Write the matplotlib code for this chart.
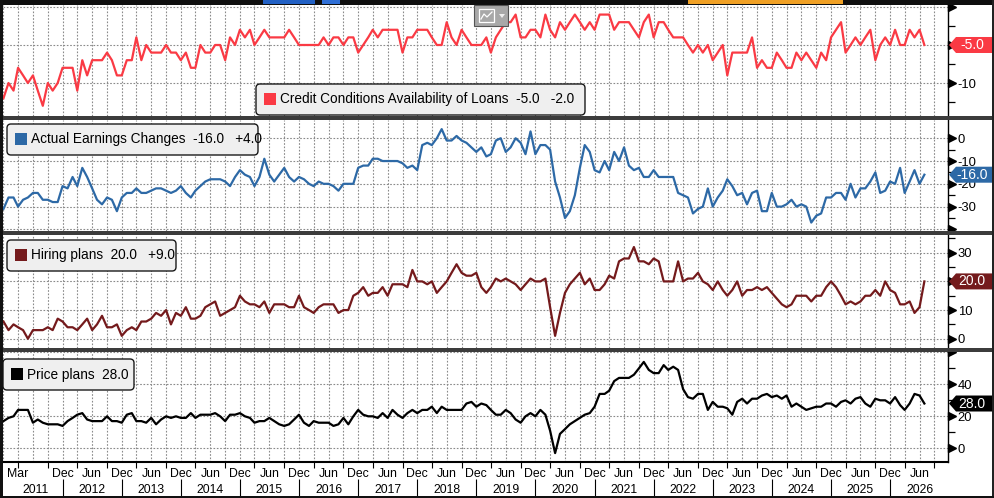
import pandas as pd
import matplotlib
matplotlib.use('Agg')
import matplotlib.pyplot as plt
import matplotlib.dates as mdates
from matplotlib.patches import Rectangle, FancyBboxPatch, Polygon
from matplotlib.lines import Line2D
from matplotlib.ticker import FuncFormatter
from matplotlib.transforms import Affine2D, blended_transform_factory, ScaledTranslation

plt.rcParams['font.family'] = ['Liberation Sans', 'DejaVu Sans']
plt.rcParams['axes.unicode_minus'] = False

# monthly observations, Dec 2010 .. Jul 2026
months = pd.date_range('2010-12-01', '2026-07-01', freq='MS')

credit = [
    -12, -10, -11, -8, -9, -10, -9, -11, -13, -10,
    -11, -10, -8, -8, -8, -11, -7, -9, -7, -7,
    -7, -6, -7, -9, -9, -7, -7, -4, -7, -5,
    -6, -6, -6, -5, -6, -6, -7, -6, -8, -8,
    -5, -6, -6, -5, -5, -7, -4, -5, -3, -4,
    -3, -5, -4, -3, -4, -4, -4, -4, -3, -4,
    -5, -5, -5, -5, -5, -4, -5, -4, -4, -5,
    -4, -4, -6, -5, -4, -3, -4, -3, -3, -3,
    -3, -6, -4, -4, -3, -3, -3, -4, -5, -5,
    -2, -4, -5, -3, -4, -5, -5, -5, -4, -6, -4,
    -3, -2, -2, -1, -4, -4, -3, -3, -4, -1,
    -3, -4, -2, -3, -2, -1, -2, -3, -2, -3,
    -1, -1, -1, -3, -2, -2, -2, -3, -4, -2,
    -1, -4, -2, -2, -3, -4, -4, -4, -5, -6,
    -5, -6, -5, -7, -6, -5, -9, -6, -6, -6,
    -6, -4, -8, -7, -8, -8, -6, -7, -8, -8,
    -6, -7, -6, -7, -8, -6, -7, -4, -3, -2,
    -6, -5, -4, -5, -4, -3, -7, -5, -4, -5,
    -3, -5, -5, -3, -4, -3, -5]

earnings = [
    -31, -26, -26, -30, -27, -26, -24, -24, -27, -27,
    -28, -28, -21, -22, -17, -21, -13, -17, -22, -27,
    -29, -26, -27, -32, -26, -24, -24, -22, -24, -24,
    -23, -22, -22, -23, -24, -23, -21, -24, -26, -23,
    -21, -19, -18, -18, -18, -19, -21, -17, -14, -16,
    -17, -21, -17, -9, -16, -19, -16, -13, -17, -19,
    -17, -18, -20, -21, -19, -20, -20, -21, -23, -20,
    -20, -20, -13, -12, -12, -9, -9, -10, -10, -10,
    -10, -11, -13, -12, -14, -3, -2, -3, 0, 4,
    -1, -1, 1, -1, -2, -4, -6, -4, -8, -7, -1,
    0, -6, -4, 0, -2, -7, 3, -7, -3, -3,
    -5, -19, -26, -35, -32, -25, -13, -3, -6, -14,
    -15, -10, -14, -6, -10, -4, -12, -14, -13, -17,
    -17, -14, -17, -17, -17, -17, -24, -25, -26, -33,
    -31, -30, -22, -30, -26, -23, -18, -21, -25, -24,
    -29, -24, -23, -32, -32, -24, -30, -30, -29, -27,
    -30, -29, -30, -37, -34, -33, -26, -26, -24, -24,
    -27, -20, -26, -22, -22, -19, -15, -24, -23, -19,
    -20, -13, -24, -19, -14, -20, -16]

hiring = [
    6, 3, 5, 4, 3, 0, 3, 3, 3, 4,
    3, 7, 6, 4, 4, 3, 5, 7, 3, 5,
    8, 4, 4, 5, 1, 3, 4, 3, 6, 6,
    7, 9, 8, 10, 5, 9, 8, 11, 7, 7,
    8, 11, 12, 13, 8, 9, 10, 11, 15, 13,
    12, 12, 11, 13, 9, 12, 12, 12, 11, 11,
    15, 11, 10, 9, 11, 12, 12, 12, 9, 10,
    10, 15, 16, 18, 15, 16, 16, 18, 15, 19,
    19, 19, 18, 24, 20, 20, 19, 20, 16, 18,
    20, 23, 26, 23, 22, 22, 23, 18, 16, 18, 21,
    20, 21, 20, 19, 17, 19, 21, 20, 20, 21,
    11, 1, 9, 16, 19, 21, 23, 19, 21, 17,
    17, 19, 22, 21, 27, 28, 28, 32, 27, 27,
    26, 28, 27, 20, 20, 20, 27, 20, 21, 21,
    23, 20, 19, 17, 20, 17, 15, 17, 20, 15,
    17, 17, 18, 17, 18, 16, 14, 12, 11, 12,
    15, 15, 15, 13, 15, 15, 18, 20, 18, 15,
    12, 13, 12, 13, 15, 15, 17, 15, 20, 17,
    16, 12, 12, 13, 9, 11, 20]

prices = [
    17, 19, 20, 24, 24, 24, 16, 18, 16, 15,
    15, 15, 14, 17, 19, 21, 22, 18, 17, 17,
    17, 20, 17, 17, 16, 21, 22, 17, 17, 16,
    19, 15, 18, 20, 19, 20, 19, 19, 22, 19,
    21, 21, 21, 22, 20, 17, 21, 21, 22, 20,
    19, 16, 17, 17, 19, 17, 15, 14, 15, 18,
    21, 16, 14, 17, 16, 16, 16, 14, 15, 19,
    15, 20, 24, 21, 20, 20, 19, 22, 19, 24,
    21, 19, 22, 24, 22, 24, 24, 26, 22, 26,
    24, 24, 24, 24, 28, 29, 26, 28, 27, 24, 21,
    21, 24, 22, 18, 16, 20, 22, 20, 24, 21,
    11, -3, 9, 12, 15, 17, 19, 21, 22, 26,
    34, 34, 36, 42, 44, 44, 44, 46, 50, 54,
    49, 47, 47, 52, 49, 51, 49, 37, 32, 31,
    34, 34, 24, 29, 26, 26, 25, 21, 29, 31,
    28, 31, 31, 33, 34, 32, 33, 31, 33, 26,
    28, 26, 24, 25, 26, 26, 28, 28, 26, 29,
    30, 28, 31, 32, 28, 26, 31, 30, 30, 28,
    32, 27, 24, 28, 34, 33, 28]

W, H = 995, 498
fig = plt.figure(figsize=(W / 100, H / 100), dpi=100, facecolor='white')
# pixel coordinates measured from the top-left corner
px = Affine2D().scale(1 / W, -1 / H).translate(0, 1) + fig.transFigure


def rect(x0, y0, x1, y1, **kw):
    fig.add_artist(Rectangle((x0, y0), x1 - x0, y1 - y0, transform=px, **kw))


x_lo, x_hi = pd.Timestamp('2010-11-28'), pd.Timestamp('2026-11-24')
grid_kw = dict(color='#8a8a8a', linestyle=(0, (1.5, 1.5)), linewidth=0.8)

# labels that sit under the last-value tag are left out
panels = [
    dict(data=credit, color='#fa3a44', name='Credit Conditions Availability of Loans',
         rows=(5, 116), ylim=(-14.34, 0.26), major=[0, -5, -10], labels=[-10],
         minor=[-2.5, -7.5, -12.5], box=(256, 84, 585, 115), change=True),
    dict(data=earnings, color='#2d69a6', name='Actual Earnings Changes',
         rows=(120, 231), ylim=(-40.7, 8.0), major=[0, -10, -20, -30, -40], labels=[0, -10, -20, -30],
         minor=[-5, -15, -25, -35], box=(7, 124, 258, 155), change=True),
    dict(data=hiring, color='#741a1c', name='Hiring plans',
         rows=(235, 348), ylim=(-3.24, 36.2), major=[0, 10, 20, 30], labels=[0, 10, 30],
         minor=[5, 15, 25, 35], box=(7, 240, 176, 271), change=True),
    dict(data=prices, color='#000000', name='Price plans',
         rows=(352, 462), ylim=(-8.56, 60.2), major=[0, 20, 40, 60], labels=[0, 20, 40],
         minor=[10, 30, 50], box=(3, 359, 134, 390), change=False),
]

axes = []
for p in panels:
    top, bot = p['rows']
    ax = fig.add_axes([3 / W, 1 - bot / H, 945 / W, (bot - top) / H])
    ax.plot(months, p['data'], color=p['color'], lw=1.6, zorder=3)
    ax.set_xlim(x_lo, x_hi)
    ax.set_ylim(*p['ylim'])
    ax.xaxis.set_major_locator(mdates.MonthLocator(bymonth=[3, 6, 9, 12]))
    ax.tick_params(axis='x', which='both', length=0, labelbottom=False)
    ax.yaxis.tick_right()
    ax.set_yticks(p['major'])
    ax.set_yticklabels([f'{v:g}' if v in p['labels'] else '' for v in p['major']])
    ax.set_yticks(p['minor'], minor=True)
    ax.tick_params(axis='y', which='major', length=0, pad=7, labelsize=9.4)
    ax.tick_params(axis='y', which='minor', length=5, width=0.9, direction='out')
    ax.grid(True, which='major', **grid_kw)
    for s in ('top', 'bottom', 'left'):
        ax.spines[s].set_visible(False)
    ax.spines['right'].set_linewidth(1.0)
    tr = blended_transform_factory(ax.transAxes, ax.transData) + \
        ScaledTranslation(4 / 100, 0, fig.dpi_scale_trans)
    ax.plot([1] * len(p['major']), p['major'], ls='none', marker='>', ms=5.5,
            color='black', transform=tr, clip_on=False, zorder=5)
    axes.append(ax)

# bottom date axis
ax4 = axes[-1]
ax4.spines['bottom'].set_visible(True)
ax4.spines['bottom'].set_linewidth(1.5)


def month_label(x, pos):
    d = mdates.num2date(x)
    if (d.year, d.month) == (2011, 3):
        return 'Mar'
    if (d.year, d.month) < (2011, 12):
        return ''
    if d.month in (6, 12):
        return d.strftime('%b')
    return ''


ax4.xaxis.set_major_formatter(FuncFormatter(month_label))
ax4.xaxis.set_minor_locator(mdates.MonthLocator(bymonth=[3, 9]))
ax4.xaxis.remove_overlapping_locs = False
ax4.tick_params(axis='x', which='major', length=0, labelbottom=True, labelsize=8.8, pad=4)
ax4.tick_params(axis='x', which='minor', length=4, width=0.8, direction='out')

xt = ax4.get_xaxis_transform()
years = list(range(2011, 2027))
for yr in years:
    if yr == 2011:
        centre = pd.Timestamp('2011-01-01') + (pd.Timestamp('2011-12-01') - pd.Timestamp('2011-01-01')) / 2
    else:
        centre = pd.Timestamp(f'{yr}-06-01')
    ax4.text(centre, -0.255, str(yr), transform=xt, ha='center', va='center', fontsize=8.8)
year_breaks = [pd.Timestamp(f'{yr}-12-01') for yr in years[:-1]]
ax4.vlines(year_breaks, -0.33, -0.15, transform=xt, colors='black', lw=0.8, clip_on=False)

# legends and last-value tags
for p, ax in zip(panels, axes):
    data = p['data']
    last = data[-1]
    label = f"{p['name']}  {last:.1f}"
    if p['change']:
        label += f"   {last - data[-2]:+.1f}"
    x0, y0, x1, y1 = p['box']
    cy = (y0 + y1) / 2
    fig.add_artist(FancyBboxPatch((x0, y0), x1 - x0, y1 - y0,
                                  boxstyle='round,pad=0,rounding_size=4', transform=px,
                                  facecolor='#efefef', edgecolor='#1a1a1a', lw=1.0, zorder=6))
    rect(x0 + 8, cy - 6, x0 + 20, cy + 6, facecolor=p['color'], edgecolor='none', zorder=7)
    fig.text(x0 + 24, cy, label, transform=px, ha='left', va='center', fontsize=9.8, zorder=7)

    y = px.inverted().transform(ax.transData.transform((ax.get_xlim()[1], last)))[1]
    tag = [(949, y), (956, y - 8), (992, y - 8), (992, y + 8), (956, y + 8)]
    fig.add_artist(Polygon(tag, closed=True, transform=px, facecolor=p['color'],
                           edgecolor='none', zorder=8))
    fig.text(972, y, f'{last:.1f}', transform=px, ha='center', va='center',
             color='white', fontsize=10, zorder=9)

# panel separators, frame and toolbar remnants
for y0, y1 in [(116, 120), (231, 235), (348, 352)]:
    rect(0, y0, 995, y1, facecolor='#3c3c3c', edgecolor='none', zorder=10)
rect(0, 0, 995, 5, facecolor='#0e0e0e', edgecolor='none', zorder=10)
rect(263, 0, 315, 4, facecolor='#2160c4', edgecolor='none', zorder=11)
rect(322, 0, 340, 4, facecolor='#2f6fd6', edgecolor='none', zorder=11)
rect(688, 0, 843, 4, facecolor='#f0a024', edgecolor='none', zorder=11)
rect(0, 0, 3, 498, facecolor='#111111', edgecolor='none', zorder=10)
rect(992, 0, 995, 498, facecolor='#222222', edgecolor='none', zorder=10)
rect(0, 496.5, 995, 498, facecolor='#111111', edgecolor='none', zorder=10)

# chart-type button
rect(474, 5, 508, 26, facecolor='#a8a8a8', edgecolor='#555555', lw=0.8, zorder=11)
rect(479, 9, 494, 22, facecolor='none', edgecolor='white', lw=0.9, zorder=12)
fig.add_artist(Line2D([481, 484, 487, 492], [19, 14, 17, 12], transform=px,
                      color='white', lw=0.9, zorder=12))
fig.add_artist(Polygon([(499, 14), (505, 14), (502, 18)], closed=True, transform=px,
                       facecolor='#eeeeee', edgecolor='none', zorder=12))

fig.savefig('out.png', dpi=100, facecolor='white')
